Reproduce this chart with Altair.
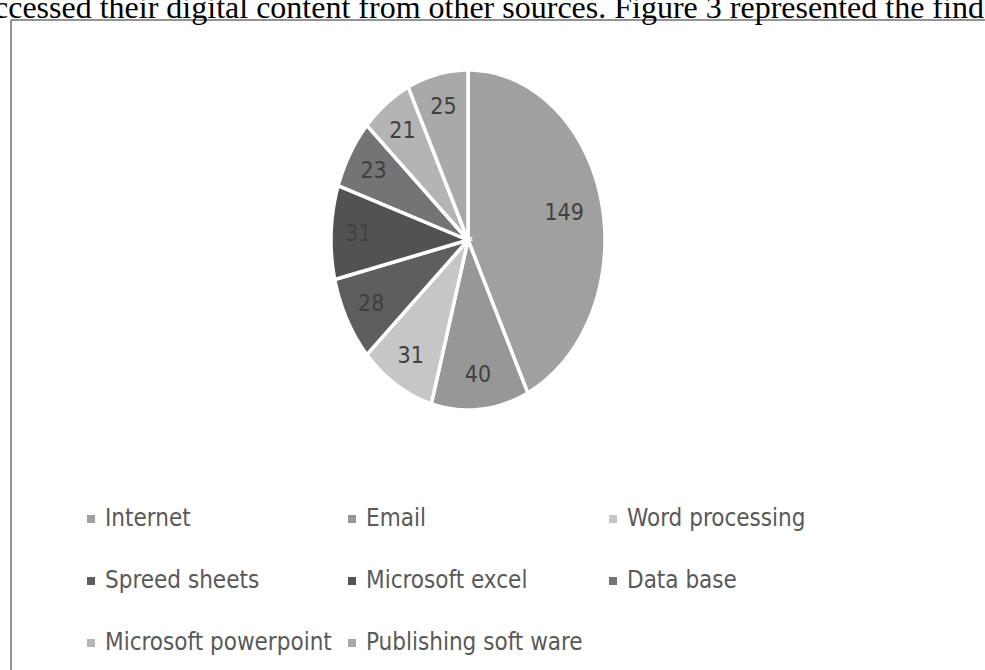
import math
import altair as alt
import pandas as pd

# ---- data ----
categories = ["Internet", "Email", "Word processing", "Spreed sheets",
              "Microsoft excel", "Data base", "Microsoft powerpoint",
              "Publishing soft ware"]
values = [149, 40, 31, 28, 31, 23, 21, 25]
colors = ["#a0a0a0", "#979797", "#c6c6c6", "#5e5e5e",
          "#525252", "#747474", "#b4b4b4", "#a9a9a9"]
caption = "ccessed their digital content from other sources. Figure 3 represented the find"

FONT = "Liberation Sans Narrow, DejaVu Sans Condensed, Roboto Condensed, Arial Narrow, Roboto"

# ---- build slice polygons (unit circle, clockwise from 12 o'clock) ----
total = sum(values)
rows = []
labels = []
start = 0.0
for cat, v in zip(categories, values):
    a0 = start / total * 2 * math.pi
    a1 = (start + v) / total * 2 * math.pi
    n = max(2, int(math.degrees(a1 - a0)) + 1)
    idx = 0
    rows.append(dict(cat=cat, idx=idx, u=0.0, v=0.0)); idx += 1
    for k in range(n + 1):
        a = a0 + (a1 - a0) * k / n
        rows.append(dict(cat=cat, idx=idx, u=math.sin(a), v=math.cos(a))); idx += 1
    am = (a0 + a1) / 2
    r = 0.72 if v / total > 0.3 else 0.8
    labels.append(dict(cat=cat, val=str(v), u=r * math.sin(am), v=r * math.cos(am)))
    start += v

slices = pd.DataFrame(rows)
lab = pd.DataFrame(labels)

W, H = 274, 340          # ellipse bounding box (plot area)
PL, PT = 331, 70         # plot area offset in the 985x670 page

xs = alt.Scale(domain=[-1, 1])
ys = alt.Scale(domain=[-1, 1])

pie = alt.Chart(slices).mark_line(
    filled=True, interpolate="linear-closed", stroke="white", strokeWidth=3.5,
    strokeJoin="miter"
).encode(
    x=alt.X("u:Q", scale=xs, axis=None),
    y=alt.Y("v:Q", scale=ys, axis=None),
    color=alt.Color("cat:N", scale=alt.Scale(domain=categories, range=colors),
                    sort=categories,
                    legend=alt.Legend(
                        title=None, orient="none", direction="horizontal",
                        legendX=79 - PL, legendY=507 - PT,
                        columns=3, gridAlign="all", symbolType="square",
                        symbolSize=64, symbolStrokeWidth=0, symbolOpacity=1,
                        labelFont=FONT, labelFontSize=24, labelColor="#595959",
                        labelOffset=2, columnPadding=8, rowPadding=38,
                        labelLimit=400)),
    order=alt.Order("idx:Q"),
)

text = alt.Chart(lab).mark_text(
    font=FONT, fontSize=23, color="#404040", baseline="middle", align="center"
).encode(
    x=alt.X("u:Q", scale=xs, axis=None),
    y=alt.Y("v:Q", scale=ys, axis=None),
    text="val:N",
)

cap = alt.Chart(pd.DataFrame({"t": [caption]})).mark_text(
    font="Liberation Serif, Times New Roman, serif", fontSize=32, color="#000000",
    align="left", baseline="alphabetic"
).encode(x=alt.value(-6 - PL), y=alt.value(18 - PT), text="t:N")

left_border = alt.Chart(pd.DataFrame({"a": [0]})).mark_rule(
    color="#707070", strokeWidth=1.5
).encode(x=alt.value(11 - PL), y=alt.value(20 - PT), y2=alt.value(680 - PT))

top_border = alt.Chart(pd.DataFrame({"a": [0]})).mark_rule(
    color="#707070", strokeWidth=1.5
).encode(x=alt.value(11 - PL), x2=alt.value(1000 - PL), y=alt.value(20 - PT))

chart = alt.layer(left_border, top_border, cap, pie, text).properties(
    width=W, height=H,
    padding={"left": PL, "top": PT, "right": 985 - PL - W, "bottom": 670 - PT - H},
    autosize=alt.AutoSizeParams(type="none"),
    background="white",
).configure_view(stroke=None)

chart.save("out.html", embed_options={"renderer": "svg", "actions": False})
